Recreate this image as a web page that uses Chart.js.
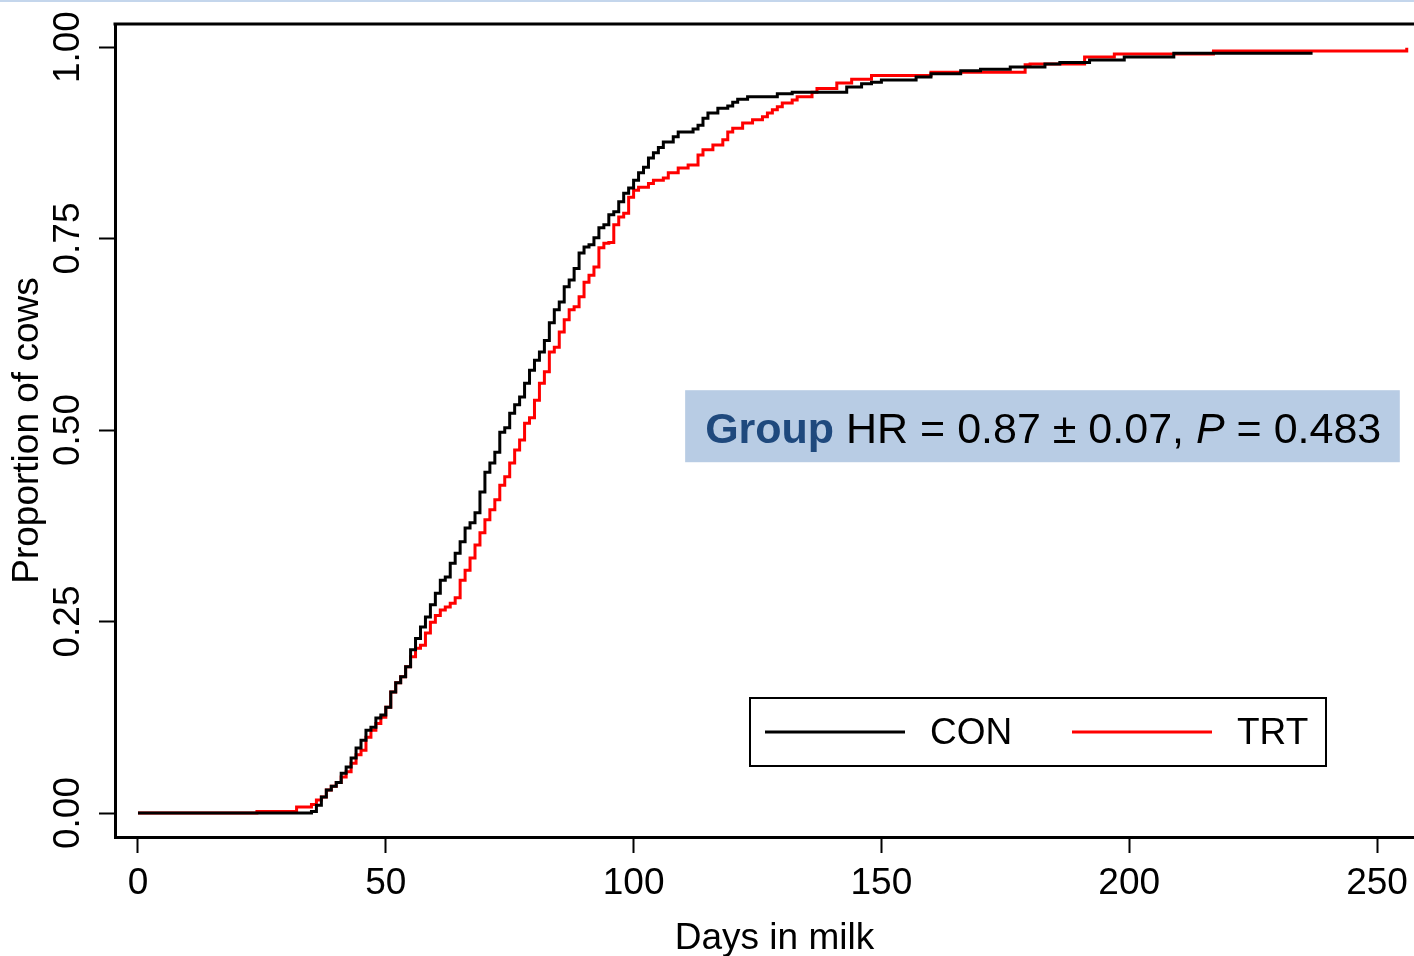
<!DOCTYPE html>
<html><head><meta charset="utf-8">
<script src="https://cdn.jsdelivr.net/npm/chart.js@4/dist/chart.umd.min.js"></script>
<style>
html,body{margin:0;padding:0;background:#fff;overflow:hidden;width:1414px;height:956px;position:relative;}
#topline{position:absolute;left:0;top:0;width:1414px;height:2px;background:#c4d6ec;}
canvas{position:absolute;left:0;top:0;}
</style></head><body>
<canvas id="c" width="1434" height="956"></canvas>
<div id="topline"></div>
<script>
// ---- data ----
const seriesLabels = ['CON', 'TRT'];
const conDays = [0,35,36,37,38,39,40,41,42,43,44,45,46,47,48,49,50,51,52,53,54,55,56,57,58,59,60,61,62,63,64,65,66,67,68,69,70,71,72,73,74,75,76,77,78,79,80,81,82,83,84,85,86,87,88,89,90,91,92,93,94,95,96,97,98,99,100,101,102,103,104,105,106,108,109,112,113,114,115,117,119,120,121,123,129,132,143,146,148,150,157,160,166,170,176,183,186,192,199,209,237];
const conProp = [0,0.002,0.010,0.021,0.030,0.035,0.040,0.052,0.060,0.072,0.085,0.095,0.108,0.112,0.124,0.128,0.138,0.158,0.170,0.178,0.191,0.213,0.228,0.243,0.256,0.272,0.287,0.304,0.308,0.326,0.339,0.354,0.372,0.379,0.392,0.419,0.445,0.457,0.471,0.497,0.503,0.522,0.533,0.543,0.561,0.578,0.591,0.602,0.617,0.640,0.657,0.667,0.687,0.696,0.711,0.731,0.739,0.742,0.751,0.764,0.768,0.781,0.785,0.798,0.809,0.816,0.826,0.836,0.843,0.855,0.862,0.869,0.876,0.883,0.889,0.893,0.898,0.907,0.914,0.920,0.923,0.928,0.932,0.935,0.939,0.941,0.948,0.952,0.954,0.957,0.961,0.965,0.969,0.971,0.974,0.978,0.980,0.983,0.987,0.992,0.992];
const trtDays = [0,24,32,35,36,37,38,39,40,41,42,43,44,45,46,47,48,49,50,51,52,53,54,55,56,57,58,59,60,61,62,63,64,65,66,67,68,69,70,71,72,73,74,75,76,77,78,79,80,81,82,83,84,85,86,87,88,89,90,91,92,93,94,95,96,97,98,99,100,101,103,104,106,107,109,111,113,114,116,118,119,120,122,124,126,127,128,129,130,132,133,136,137,141,144,148,160,179,180,191,197,217,256];
const trtProp = [0,0.002,0.008,0.011,0.017,0.021,0.030,0.035,0.040,0.047,0.054,0.065,0.076,0.082,0.099,0.108,0.117,0.125,0.138,0.158,0.170,0.178,0.191,0.204,0.215,0.219,0.235,0.249,0.258,0.265,0.269,0.274,0.281,0.304,0.317,0.333,0.350,0.366,0.383,0.396,0.409,0.428,0.439,0.457,0.474,0.487,0.509,0.516,0.539,0.561,0.576,0.602,0.608,0.628,0.644,0.657,0.661,0.674,0.693,0.702,0.713,0.738,0.744,0.745,0.768,0.778,0.783,0.804,0.813,0.817,0.822,0.826,0.829,0.836,0.842,0.846,0.859,0.866,0.872,0.879,0.889,0.894,0.901,0.905,0.909,0.914,0.918,0.922,0.927,0.931,0.935,0.941,0.946,0.953,0.958,0.963,0.967,0.977,0.978,0.987,0.991,0.995,0.999];
const xTicks = [0, 50, 100, 150, 200, 250];
const yTicks = [0, 0.25, 0.5, 0.75, 1];
const xTitle = 'Days in milk';
const yTitle = 'Proportion of cows';
const noteBold = 'Group';
const noteText1 = ' HR = 0.87 \u00B1 0.07, ';
const noteItalic = 'P';
const noteText2 = ' = 0.483';

const FONT = "'Liberation Sans', Arial, sans-serif";
const colors = ['#000000', '#ff0000'];

const overlay = {
  id: 'overlay',
  afterDraw(chart) {
    const {ctx, chartArea: a, scales: {x, y}} = chart;
    ctx.save();
    // top spine
    ctx.strokeStyle = '#000'; ctx.lineWidth = 3;
    ctx.beginPath(); ctx.moveTo(a.left - 1.5, a.top); ctx.lineTo(a.right, a.top); ctx.stroke();

    // annotation box
    const bx1 = x.getPixelForValue(110.4), bx2 = x.getPixelForValue(254.6);
    const by1 = y.getPixelForValue(0.552), by2 = y.getPixelForValue(0.458);
    ctx.fillStyle = '#b8cce4';
    ctx.fillRect(bx1, by1, bx2 - bx1, by2 - by1);
    let tx = bx1 + 20; const ty = by1 + 53;
    ctx.textBaseline = 'alphabetic'; ctx.textAlign = 'left';
    ctx.font = 'bold 43px ' + FONT; ctx.fillStyle = '#1f497d';
    ctx.fillText(noteBold, tx, ty); tx += ctx.measureText(noteBold).width;
    ctx.font = '43px ' + FONT; ctx.fillStyle = '#000';
    ctx.fillText(noteText1, tx, ty); tx += ctx.measureText(noteText1).width;
    ctx.font = 'italic 43px ' + FONT;
    ctx.fillText(noteItalic, tx, ty); tx += ctx.measureText(noteItalic).width;
    ctx.font = '43px ' + FONT;
    ctx.fillText(noteText2, tx, ty);

    // legend
    const lx = 749, ly = 697, lw = 578, lh = 70;
    ctx.strokeStyle = '#000'; ctx.lineWidth = 2;
    ctx.strokeRect(lx + 1, ly + 1, lw - 2, lh - 2);
    const midY = ly + 35;
    const items = [[765, 930], [1072, 1237]];
    chart.data.datasets.forEach((ds, i) => {
      const [sx, txx] = items[i];
      ctx.strokeStyle = ds.borderColor; ctx.lineWidth = 3;
      ctx.beginPath(); ctx.moveTo(sx, midY); ctx.lineTo(sx + 140, midY); ctx.stroke();
      ctx.fillStyle = '#000'; ctx.font = '37px ' + FONT; ctx.textBaseline = 'middle';
      ctx.fillText(ds.label, txx, midY + 2);
    });
    ctx.restore();
  }
};

const tickFont = {family: FONT, size: 37};
new Chart(document.getElementById('c'), {
  type: 'line',
  data: {
    datasets: [
      {label: seriesLabels[0], data: conDays.map((d, i) => ({x: d, y: conProp[i]})), borderColor: colors[0], borderWidth: 3, stepped: true, pointRadius: 0, fill: false},
      {label: seriesLabels[1], data: trtDays.map((d, i) => ({x: d, y: trtProp[i]})), borderColor: colors[1], borderWidth: 3, stepped: true, pointRadius: 0, fill: false}
    ]
  },
  options: {
    responsive: false,
    animation: false,
    layout: {padding: {top: 24, left: 0, right: 0, bottom: 0}},
    plugins: {legend: {display: false}, tooltip: {enabled: false}},
    scales: {
      x: {
        type: 'linear', min: -4.64, max: 261.5,
        afterBuildTicks: s => { s.ticks = xTicks.map(v => ({value: v})); },
        afterFit: s => { s.height = 119; },
        grid: {drawOnChartArea: false, drawTicks: true, tickLength: 16, tickWidth: 2, tickColor: '#000'},
        border: {display: true, width: 3, color: '#000'},
        ticks: {font: tickFont, color: '#000', padding: 9, maxRotation: 0, minRotation: 0, autoSkip: false, callback: v => String(v)},
        title: {display: true, text: xTitle, font: tickFont, color: '#000', padding: {top: 0, bottom: -5}}
      },
      y: {
        type: 'linear', min: -0.0313, max: 1.0301,
        afterBuildTicks: s => { s.ticks = yTicks.map(v => ({value: v})); },
        afterFit: s => { s.width = 115; },
        grid: {drawOnChartArea: false, drawTicks: true, tickLength: 16, tickWidth: 2, tickColor: '#000'},
        border: {display: true, width: 3, color: '#000'},
        ticks: {font: tickFont, color: '#000', padding: -5.5, minRotation: 90, maxRotation: 90, crossAlign: 'center', autoSkip: false, callback: v => Number(v).toFixed(2)},
        title: {display: true, text: yTitle, font: tickFont, color: '#000', padding: {top: 6, bottom: 0}}
      }
    }
  },
  plugins: [overlay]
});
</script>
</body></html>
